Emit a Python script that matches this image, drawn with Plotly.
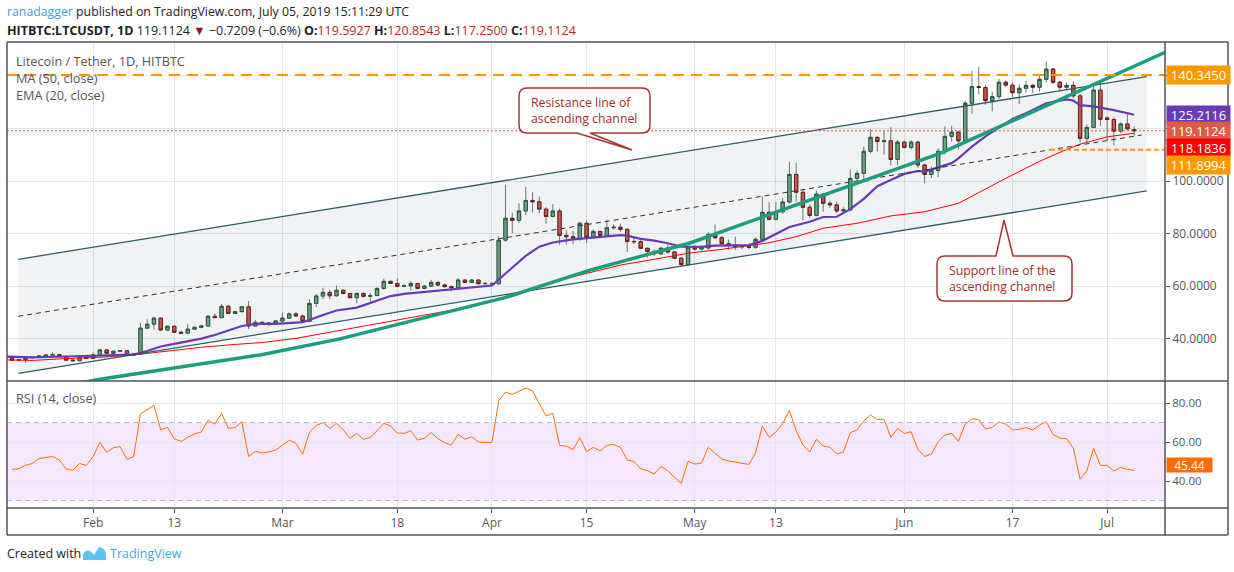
import pandas as pd
import plotly.graph_objects as go

W, H = 1234, 572

# ---- data ----
first_day = "2019-01-20"

open_prices = [
    32.9, 31.8, 32.0, 32.7, 32.9, 33.4, 33.7, 33.9, 33.2, 31.8,
    31.6, 32.7, 32.5, 33.8, 35.7, 34.4, 35.2, 35.4, 33.7, 34.2,
    44.0, 45.5, 47.8, 43.3, 44.7, 42.4, 42.1, 43.6, 44.3, 44.8,
    48.5, 48.0, 52.3, 49.6, 50.3, 52.1, 44.8, 46.2, 45.7, 45.9,
    46.7, 47.8, 49.4, 48.6, 46.6, 53.4, 56.2, 57.6, 56.3, 58.4,
    57.2, 55.6, 57.2, 56.1, 56.4, 59.1, 61.8, 61.0, 59.9, 60.1,
    61.0, 59.1, 60.0, 61.4, 60.4, 59.8, 59.4, 62.3, 61.4, 62.3,
    60.9, 61.0, 60.9, 77.5, 85.8, 85.0, 88.6, 92.6, 92.1, 89.3,
    86.5, 88.6, 79.3, 78.8, 78.0, 83.9, 78.6, 80.8, 79.3, 82.2,
    82.4, 81.6, 77.0, 76.9, 74.4, 73.2, 72.3, 74.4, 73.0, 70.6,
    68.2, 74.7, 74.1, 74.5, 79.7, 78.4, 76.1, 75.6, 75.1, 75.0,
    74.8, 77.8, 88.1, 85.4, 88.3, 92.0, 102.5, 95.7, 90.0, 86.9,
    95.0, 91.5, 90.9, 88.6, 89.0, 101.0, 102.9, 111.3, 116.6, 115.0,
    115.3, 108.2, 114.8, 112.8, 114.8, 106.1, 102.5, 104.0, 111.3, 117.0,
    118.6, 115.3, 129.6, 135.9, 135.6, 130.6, 132.1, 137.6, 136.5, 133.6,
    135.3, 136.4, 135.7, 138.7, 142.6, 137.6, 135.7, 136.4, 132.4, 116.2,
    120.4, 134.6, 124.0, 123.4, 119.0, 121.7, 119.5927,
]
high_prices = [
    33.6, 32.4, 32.9, 33.1, 33.7, 34.0, 34.8, 34.2, 33.6, 32.2,
    33.0, 33.2, 34.7, 36.0, 35.9, 35.4, 35.6, 35.6, 34.5, 46.0,
    47.4, 48.3, 48.0, 45.0, 45.0, 43.0, 45.5, 44.5, 45.0, 49.0,
    49.6, 53.2, 52.8, 50.6, 52.4, 54.3, 47.0, 46.6, 46.1, 47.0,
    50.0, 50.0, 50.2, 49.2, 55.0, 57.0, 59.4, 58.6, 60.2, 58.8,
    57.4, 57.6, 57.8, 57.5, 59.6, 62.8, 62.0, 62.9, 60.6, 62.0,
    61.2, 60.5, 62.4, 61.8, 61.0, 60.3, 63.0, 62.5, 62.6, 62.6,
    61.5, 61.3, 79.0, 98.6, 88.0, 91.5, 97.8, 95.7, 94.1, 90.0,
    91.2, 89.5, 81.2, 81.0, 84.5, 85.0, 81.5, 81.0, 85.2, 83.5,
    83.8, 82.0, 78.5, 77.5, 74.6, 74.0, 75.0, 75.8, 73.3, 71.0,
    75.0, 75.6, 75.0, 80.5, 83.5, 79.0, 77.7, 78.8, 75.6, 75.3,
    78.5, 94.0, 92.0, 92.0, 93.5, 107.3, 106.9, 97.0, 91.0, 96.3,
    95.5, 92.5, 92.1, 90.0, 104.5, 104.0, 113.2, 119.8, 117.0, 119.0,
    120.5, 115.5, 115.3, 115.5, 115.3, 106.5, 105.5, 112.5, 120.8, 121.0,
    119.0, 130.5, 142.0, 143.5, 136.5, 134.0, 138.8, 138.3, 137.5, 136.8,
    138.0, 137.0, 140.5, 145.5, 143.0, 138.0, 137.5, 138.0, 133.0, 121.5,
    137.2, 137.2, 124.5, 124.3, 122.3, 125.5, 120.8543,
]
low_prices = [
    31.6, 31.5, 30.8, 32.5, 32.6, 33.1, 33.4, 32.8, 31.5, 31.3,
    31.5, 32.3, 32.3, 33.5, 34.2, 34.2, 35.0, 33.5, 33.6, 34.0,
    43.8, 43.4, 43.0, 43.0, 42.2, 41.9, 41.8, 43.4, 44.0, 44.6,
    47.8, 47.9, 49.3, 49.4, 49.9, 43.6, 44.5, 45.4, 44.6, 45.5,
    46.2, 47.5, 48.4, 46.4, 46.4, 52.0, 55.0, 55.0, 56.1, 56.8,
    55.2, 53.5, 55.6, 54.1, 56.2, 58.7, 60.8, 59.5, 59.5, 58.2,
    58.7, 58.8, 59.8, 60.0, 59.4, 58.0, 59.3, 61.2, 61.2, 60.7,
    60.7, 60.6, 60.6, 76.9, 80.0, 84.0, 87.0, 88.0, 87.7, 83.7,
    86.2, 75.8, 75.8, 76.0, 77.3, 76.3, 78.3, 79.0, 79.0, 81.5,
    80.7, 73.0, 76.0, 74.0, 70.8, 71.5, 71.8, 72.4, 70.2, 67.7,
    68.0, 73.5, 73.6, 73.8, 77.8, 75.6, 73.8, 73.8, 74.0, 74.0,
    74.2, 77.5, 85.0, 85.0, 87.5, 91.5, 92.0, 85.2, 86.0, 86.5,
    88.3, 89.8, 87.8, 87.4, 88.5, 100.0, 100.5, 110.5, 111.2, 110.0,
    106.0, 105.8, 112.4, 112.0, 105.0, 99.1, 101.2, 101.5, 110.0, 115.0,
    112.0, 114.0, 125.5, 133.0, 129.0, 126.5, 131.0, 135.9, 132.0, 129.3,
    133.5, 133.5, 134.0, 137.5, 137.0, 134.0, 134.5, 131.5, 114.6, 114.8,
    120.0, 121.0, 115.3, 113.5, 118.3, 119.5, 117.25,
]
close_prices = [
    31.8, 32.0, 32.7, 32.9, 33.4, 33.7, 33.9, 33.2, 31.8, 31.6,
    32.7, 32.5, 33.8, 35.7, 34.4, 35.2, 35.4, 33.7, 34.2, 44.0,
    45.5, 47.8, 43.3, 44.7, 42.4, 42.1, 43.6, 44.3, 44.8, 48.5,
    48.0, 52.3, 49.6, 50.3, 52.1, 44.8, 46.2, 45.7, 45.9, 46.7,
    47.8, 49.4, 48.6, 46.6, 53.4, 56.2, 57.6, 56.3, 58.4, 57.2,
    55.6, 57.2, 56.1, 56.4, 59.1, 61.8, 61.0, 59.9, 60.1, 61.0,
    59.1, 60.0, 61.4, 60.4, 59.8, 59.4, 62.3, 61.4, 62.3, 60.9,
    61.0, 60.9, 77.5, 85.8, 85.0, 88.6, 92.6, 92.1, 89.3, 86.5,
    88.6, 79.3, 78.8, 78.0, 83.9, 78.6, 80.8, 79.3, 82.2, 82.4,
    81.6, 77.0, 76.9, 74.4, 73.2, 72.3, 74.4, 73.0, 70.6, 68.2,
    74.7, 74.1, 74.5, 79.7, 78.4, 76.1, 75.6, 75.1, 75.0, 74.8,
    77.8, 88.1, 85.4, 88.3, 92.0, 102.5, 95.7, 90.0, 86.9, 95.0,
    91.5, 90.9, 88.6, 89.0, 101.0, 102.9, 111.3, 116.6, 115.0, 115.3,
    108.2, 114.8, 112.8, 114.8, 106.1, 102.5, 104.0, 111.3, 117.0, 118.6,
    115.3, 129.6, 135.9, 135.6, 130.6, 132.1, 137.6, 136.5, 133.6, 135.3,
    136.4, 135.7, 138.7, 142.6, 137.6, 135.7, 136.4, 132.4, 116.2, 120.4,
    134.6, 123.5, 123.4, 119.0, 121.7, 119.83, 119.1124,
]
rsi_values = [
    46.0, 46.3, 48.0, 49.0, 51.5, 52.1, 52.6, 50.8, 46.2, 45.5,
    49.0, 48.0, 52.5, 59.8, 54.7, 57.1, 57.6, 51.1, 52.6, 74.4,
    76.4, 78.8, 66.2, 67.5, 61.7, 60.3, 62.4, 64.1, 65.1, 71.1,
    69.2, 74.7, 67.0, 67.4, 70.4, 52.6, 55.2, 54.4, 54.9, 55.9,
    58.3, 60.9, 59.3, 53.8, 65.0, 68.4, 70.1, 67.0, 69.6, 66.3,
    61.9, 64.4, 61.4, 62.4, 65.8, 69.6, 68.2, 64.6, 64.4, 65.8,
    61.0, 62.0, 64.8, 61.7, 59.7, 58.5, 63.9, 61.4, 62.7, 60.0,
    59.8, 59.8, 81.2, 85.5, 84.4, 86.0, 87.7, 86.3, 79.5, 73.3,
    74.7, 58.3, 57.8, 56.2, 62.2, 55.0, 57.3, 55.4, 58.3, 58.8,
    57.3, 50.8, 50.1, 46.2, 45.3, 43.6, 47.5, 45.3, 41.9, 38.8,
    50.1, 48.7, 49.2, 57.3, 54.2, 51.3, 50.3, 49.7, 49.2, 48.5,
    54.5, 68.2, 62.4, 65.1, 69.4, 76.2, 65.8, 58.5, 54.9, 61.4,
    58.0, 57.3, 53.8, 54.9, 64.8, 66.2, 70.9, 73.8, 71.6, 71.6,
    62.4, 67.0, 64.4, 65.3, 56.2, 52.6, 53.8, 60.2, 63.6, 64.4,
    60.3, 69.2, 71.9, 71.6, 66.7, 67.5, 70.3, 69.2, 66.2, 66.5,
    67.4, 66.2, 68.7, 70.4, 63.9, 62.0, 61.7, 56.9, 40.9, 45.3,
    56.8, 48.0, 48.0, 45.1, 47.0, 46.0, 45.44,
]

# EMA (20) and MA (50)
ema_dates = [
    "2019-01-19", "2019-01-23", "2019-01-28", "2019-02-02", "2019-02-07",
    "2019-02-09", "2019-02-11", "2019-02-13", "2019-02-17", "2019-02-19",
    "2019-02-22", "2019-02-23", "2019-02-25", "2019-02-28", "2019-03-04",
    "2019-03-05", "2019-03-07", "2019-03-09", "2019-03-12", "2019-03-14",
    "2019-03-17", "2019-03-19", "2019-03-22", "2019-03-24", "2019-03-27",
    "2019-03-29", "2019-04-01", "2019-04-02", "2019-04-04", "2019-04-06",
    "2019-04-08", "2019-04-10", "2019-04-13", "2019-04-15", "2019-04-18",
    "2019-04-20", "2019-04-21", "2019-04-23", "2019-04-25", "2019-04-27",
    "2019-04-29", "2019-05-02", "2019-05-04", "2019-05-07", "2019-05-09",
    "2019-05-11", "2019-05-13", "2019-05-15", "2019-05-18", "2019-05-20",
    "2019-05-22", "2019-05-24", "2019-05-26", "2019-05-28", "2019-05-30",
    "2019-06-01", "2019-06-03", "2019-06-04", "2019-06-06", "2019-06-08",
    "2019-06-09", "2019-06-11", "2019-06-13", "2019-06-15", "2019-06-17",
    "2019-06-19", "2019-06-22", "2019-06-25", "2019-06-26", "2019-06-27",
    "2019-06-29", "2019-07-02", "2019-07-05",
]
ema_values = [
    33.2, 32.9, 33.2, 33.5, 33.9,
    35.3, 37.0, 38.0, 40.0, 41.4,
    43.8, 44.8, 45.6, 45.6, 46.3,
    47.1, 49.0, 50.7, 51.8, 53.5,
    56.2, 57.0, 57.8, 58.3, 59.1,
    59.6, 60.2, 62.5, 67.0, 71.5,
    75.0, 76.6, 77.8, 78.2, 78.9,
    79.4, 79.2, 78.0, 77.3, 76.3,
    75.0, 74.9, 75.4, 75.5, 75.6,
    77.2, 80.0, 82.5, 84.5, 86.3,
    86.4, 89.3, 93.2, 98.0, 100.4,
    102.7, 103.8, 103.6, 105.2, 106.8,
    108.6, 113.1, 117.0, 120.2, 123.6,
    125.8, 129.6, 131.1, 130.6, 128.9,
    128.4, 127.0, 125.2116,
]
ma_dates = [
    "2019-01-19", "2019-01-23", "2019-01-28", "2019-02-02", "2019-02-07",
    "2019-02-12", "2019-02-17", "2019-02-22", "2019-02-26", "2019-03-03",
    "2019-03-09", "2019-03-14", "2019-03-19", "2019-03-24", "2019-03-29",
    "2019-04-01", "2019-04-04", "2019-04-11", "2019-04-16", "2019-04-20",
    "2019-04-25", "2019-04-30", "2019-05-05", "2019-05-10", "2019-05-12",
    "2019-05-16", "2019-05-20", "2019-05-25", "2019-05-30", "2019-06-04",
    "2019-06-09", "2019-06-16", "2019-06-21", "2019-06-25", "2019-06-27",
    "2019-07-01", "2019-07-05",
]
ma_values = [
    31.9, 31.7, 32.4, 32.9, 33.8,
    35.3, 36.7, 37.8, 38.5, 40.1,
    42.9, 45.2, 47.3, 49.6, 52.2,
    54.1, 56.0, 62.3, 65.5, 68.0,
    70.2, 72.5, 74.0, 75.6, 76.5,
    78.8, 82.0, 83.9, 86.7, 88.3,
    91.5, 101.0, 107.5, 112.0, 114.0,
    116.8, 118.1836,
]

# drawings
channel_dates = ["2019-01-20 22:20", "2019-07-06 20:24"]
channel_top = [70.2, 139.7]
channel_bottom = [26.8, 96.2]
channel_mid_dates = ["2019-01-20 22:20", "2019-07-06 02:30"]
channel_mid = [48.5, 117.5]
trend_dates = [
    "2019-01-30 01:30", "2019-02-02", "2019-02-25 17:00", "2019-03-09 12:00",
    "2019-04-02 21:30", "2019-04-15 12:00", "2019-04-30 07:00",
    "2019-05-11 10:00", "2019-06-06 07:00", "2019-07-11",
]
trend_values = [23.1, 24.5, 33.8, 39.9, 55.6, 66.1, 76.4, 86.7, 110.5, 150.6]
resistance_level = 140.345
support_level = 111.8994
support_start = "2019-06-22 13:00"
last_close = 119.1124
ema_last = 125.2116
ma_last = 118.1836
rsi_last = 45.44

tick_dates = ["2019-02-01", "2019-02-13", "2019-03-01", "2019-03-18", "2019-04-01",
              "2019-04-15", "2019-05-01", "2019-05-13", "2019-06-01", "2019-06-17",
              "2019-07-01"]
tick_labels = ["Feb", "13", "Mar", "18", "Apr", "15", "May", "13", "Jun", "17", "Jul"]
price_ticks = [40, 60, 80, 100, 120, 140]
price_tick_text = ["40.0000", "60.0000", "80.0000", "100.0000", "", ""]
rsi_ticks = [40, 60, 80]
rsi_tick_text = ["40.00", "60.00", "80.00"]

# ---- layout helpers (pixel -> paper) ----
def px(x):
    return x / W


def py(y):
    return 1 - y / H


dates = pd.date_range(first_day, periods=len(close_prices), freq="D")
x_range = ["2019-01-19 06:15", "2019-07-09 13:25"]
body_top = [max(o, c) for o, c in zip(open_prices, close_prices)]
body_bot = [min(o, c) for o, c in zip(open_prices, close_prices)]

UP_FILL, UP_LINE = "#6ba583", "#225437"
DN_FILL, DN_LINE = "#d75442", "#5b1a13"
WICK = "#737375"
FONT = "Open Sans"
GRID = "#e6e6e6"

fig = go.Figure()

# channel background
fig.add_trace(go.Scatter(
    x=[channel_dates[0], channel_dates[1], channel_dates[1], channel_dates[0]],
    y=[channel_top[0], channel_top[1], channel_bottom[1], channel_bottom[0]],
    fill="toself", fillcolor="rgba(120,128,145,0.10)", mode="lines",
    line=dict(width=0), hoverinfo="skip",
))

# candles: wicks first, then bodies with dark borders
fig.add_trace(go.Candlestick(
    x=dates, open=open_prices, high=high_prices, low=low_prices, close=close_prices,
    increasing=dict(fillcolor=UP_FILL, line=dict(color=WICK, width=1)),
    decreasing=dict(fillcolor=DN_FILL, line=dict(color=WICK, width=1)),
    hoverinfo="skip",
))
fig.add_trace(go.Candlestick(
    x=dates, open=open_prices, high=body_top, low=body_bot, close=close_prices,
    increasing=dict(fillcolor=UP_FILL, line=dict(color=UP_LINE, width=1)),
    decreasing=dict(fillcolor=DN_FILL, line=dict(color=DN_LINE, width=1)),
    hoverinfo="skip",
))

# moving averages
fig.add_trace(go.Scatter(x=ma_dates, y=ma_values, mode="lines",
                         line=dict(color="#ff0000", width=1), hoverinfo="skip"))
fig.add_trace(go.Scatter(x=ema_dates, y=ema_values, mode="lines",
                         line=dict(color="#673ab7", width=2.2), hoverinfo="skip"))

# channel lines
for ys in (channel_top, channel_bottom):
    fig.add_trace(go.Scatter(x=channel_dates, y=ys, mode="lines",
                             line=dict(color="#2d5d6b", width=1.3), hoverinfo="skip"))
fig.add_trace(go.Scatter(x=channel_mid_dates, y=channel_mid, mode="lines",
                         line=dict(color="#333333", width=1, dash="5px,4px"),
                         hoverinfo="skip"))
# thick trend line
fig.add_trace(go.Scatter(x=trend_dates, y=trend_values, mode="lines",
                         line=dict(color="#1b9e7e", width=3.5), hoverinfo="skip"))

# RSI
fig.add_trace(go.Scatter(x=dates, y=rsi_values, mode="lines", xaxis="x2", yaxis="y2",
                         line=dict(color="#ff6d00", width=1), hoverinfo="skip"))

shapes = [
    # RSI band and its bounds
    dict(type="rect", xref="x2 domain", yref="y2", x0=0, x1=1, y0=30, y1=70,
         fillcolor="rgba(153,21,255,0.10)", line=dict(width=0), layer="below"),
    dict(type="line", xref="x2 domain", yref="y2", x0=0, x1=1, y0=70, y1=70,
         line=dict(color="#b9b9b9", width=1, dash="5px,4px")),
    dict(type="line", xref="x2 domain", yref="y2", x0=0, x1=1, y0=30, y1=30,
         line=dict(color="#b9b9b9", width=1, dash="5px,4px")),
    # horizontal levels
    dict(type="line", xref="x domain", yref="y", x0=0, x1=1,
         y0=resistance_level, y1=resistance_level,
         line=dict(color="#ff9800", width=2, dash="11px,7px")),
    dict(type="line", xref="x", yref="y", x0=support_start, x1=x_range[1],
         y0=support_level, y1=support_level,
         line=dict(color="#ff9800", width=2, dash="5px,3px")),
    dict(type="line", xref="x domain", yref="y", x0=0, x1=1,
         y0=last_close, y1=last_close,
         line=dict(color="#e04b3b", width=1, dash="2px,2px")),
]

# frame
frame = "#50535e"
for x0, y0, x1, y1 in [
    (7, 42, 1228, 42), (7, 535, 1228, 535), (7, 42, 7, 535), (1228, 42, 1228, 535),
    (7, 381, 1228, 381), (7, 508, 1228, 508), (1165, 42, 1165, 535),
]:
    shapes.append(dict(type="line", xref="paper", yref="paper",
                       x0=px(x0), y0=py(y0), x1=px(x1), y1=py(y1),
                       line=dict(color=frame, width=1.5)))


def callout(left, top, right, bottom, tail, r=8):
    # rounded box with a pointer; tail = (base_a, base_b, tip_x, tip_y, side)
    a, b, tx, ty, side = tail
    pts = [f"M{px(left + r)},{py(top)}"]
    if side == "top":
        pts += [f"L{px(a)},{py(top)}", f"L{px(tx)},{py(ty)}", f"L{px(b)},{py(top)}"]
    pts.append(f"L{px(right - r)},{py(top)}")
    pts.append(f"Q{px(right)},{py(top)} {px(right)},{py(top + r)}")
    pts.append(f"L{px(right)},{py(bottom - r)}")
    pts.append(f"Q{px(right)},{py(bottom)} {px(right - r)},{py(bottom)}")
    if side == "bottom":
        pts += [f"L{px(b)},{py(bottom)}", f"L{px(tx)},{py(ty)}", f"L{px(a)},{py(bottom)}"]
    pts.append(f"L{px(left + r)},{py(bottom)}")
    pts.append(f"Q{px(left)},{py(bottom)} {px(left)},{py(bottom - r)}")
    pts.append(f"L{px(left)},{py(top + r)}")
    pts.append(f"Q{px(left)},{py(top)} {px(left + r)},{py(top)} Z")
    return dict(type="path", xref="paper", yref="paper", path=" ".join(pts),
                fillcolor="white", line=dict(color="#a83434", width=1.5))


shapes.append(callout(519, 88, 650, 133, (577, 590, 632, 150, "bottom")))
shapes.append(callout(937, 256, 1072, 301, (996, 1013, 1004, 220, "top")))

# TradingView logo (small cloud-like mark)
shapes.append(dict(
    type="path", xref="paper", yref="paper", fillcolor="#5cc4ee", line=dict(width=0),
    path=(f"M{px(83)},{py(560)} L{px(83)},{py(555)} Q{px(85)},{py(549)} {px(90)},{py(551)} "
          f"L{px(94)},{py(555)} L{px(99)},{py(547)} Q{px(106)},{py(548)} {px(106)},{py(555)} "
          f"L{px(106)},{py(560)} Z"),
))

annotations = []


def text(x, y, s, size=13, color="#4a4a4a", xanchor="left", align="left", family=FONT):
    annotations.append(dict(xref="paper", yref="paper", x=px(x), y=py(y), text=s,
                            showarrow=False, xanchor=xanchor, yanchor="middle",
                            align=align, font=dict(family=family, size=size, color=color)))


val = "#b8261f"
text(5, 12, "<span style='color:#3ba1e0'>ranadagger</span> published on TradingView.com, "
            "July 05, 2019 15:11:29 UTC", size=12.3, color="#222")
text(5, 31, "<b>HITBTC:LTCUSDT, 1D</b> 119.1124 <span style='color:#8b1a1a'>▼</span> "
            "−0.7209 (−0.6%) "
            f"<b>O:</b><span style='color:{val}'>119.5927</span> "
            f"<b>H:</b><span style='color:{val}'>120.8543</span> "
            f"<b>L:</b><span style='color:{val}'>117.2500</span> "
            f"<b>C:</b><span style='color:{val}'>119.1124</span>", size=12.5, color="#222")
text(14, 61, "Litecoin / Tether, 1D, HITBTC", size=12.7, color="#555")
text(14, 78, "MA (50, close)", size=12.7, color="#555")
text(14, 95, "EMA (20, close)", size=12.7, color="#555")
text(14, 398, "RSI (14, close)", size=12.7, color="#555")
text(529, 110.5, "Resistance line of<br>ascending channel", size=12.3, color="#a52a2a")
text(947, 278.5, "Support line of the<br>ascending channel", size=12.3, color="#a52a2a")
text(5, 553, "Created with", size=12.5, color="#222")
text(108, 553, "TradingView", size=12.5, color="#3ba7e0")

# price labels on the right axis
for value, color, shift in [
    (resistance_level, "#ff9800", 0),
    (ema_last, "#673ab7", 0),
    (last_close, "#dd5a48", 0),
    (ma_last, "#ff0000", -15),
    (support_level, "#ff9800", -15),
]:
    annotations.append(dict(
        xref="paper", yref="y", x=px(1166), y=value, yshift=shift,
        text=f"{value:.4f}", showarrow=False, xanchor="left", yanchor="middle",
        bgcolor=color, width=60, height=15, borderpad=1.5,
        font=dict(family=FONT, size=13, color="white"),
    ))
# RSI value label, nudged up a little so "40.00" stays readable
annotations.append(dict(
    xref="paper", yref="y2", x=px(1166), y=rsi_last, yshift=5, text=f"{rsi_last:.2f}",
    showarrow=False, xanchor="left", yanchor="middle", bgcolor="#ff6d00",
    width=42, height=11, borderpad=1.5, font=dict(family=FONT, size=12, color="white"),
))

x_dom = [px(7), px(1165)]
axis_font = dict(family=FONT, size=12, color="#555")

fig.update_layout(
    width=W, height=H, margin=dict(l=0, r=0, t=0, b=0),
    paper_bgcolor="white", plot_bgcolor="white", showlegend=False,
    font=dict(family=FONT),
    xaxis=dict(domain=x_dom, anchor="y", type="date", range=x_range,
               tickvals=tick_dates, showticklabels=False, showgrid=True,
               gridcolor=GRID, zeroline=False, showline=False,
               rangeslider=dict(visible=False)),
    yaxis=dict(domain=[py(381), py(42)], anchor="x", side="right",
               range=[23.87, 152.91], tickvals=price_ticks, ticktext=price_tick_text,
               ticks="outside", ticklen=4, tickcolor="#555", tickfont=axis_font,
               gridcolor=GRID, zeroline=False, showline=False),
    xaxis2=dict(domain=x_dom, anchor="y2", type="date", range=x_range, matches="x",
                tickvals=tick_dates, ticktext=tick_labels, ticks="outside", ticklen=4,
                tickcolor="#555", tickfont=axis_font, showgrid=True, gridcolor=GRID,
                zeroline=False, showline=False, rangeslider=dict(visible=False)),
    yaxis2=dict(domain=[py(508), py(381)], anchor="x2", side="right",
                range=[26.15, 91.3], tickvals=rsi_ticks, ticktext=rsi_tick_text,
                ticks="outside", ticklen=4, tickcolor="#555",
                tickfont=dict(family=FONT, size=11.5, color="#555"),
                gridcolor=GRID, zeroline=False, showline=False),
    shapes=shapes,
    annotations=annotations,
)

fig.write_html("out.html", config={"displayModeBar": False},
               post_script="document.body.style.margin='0';")
